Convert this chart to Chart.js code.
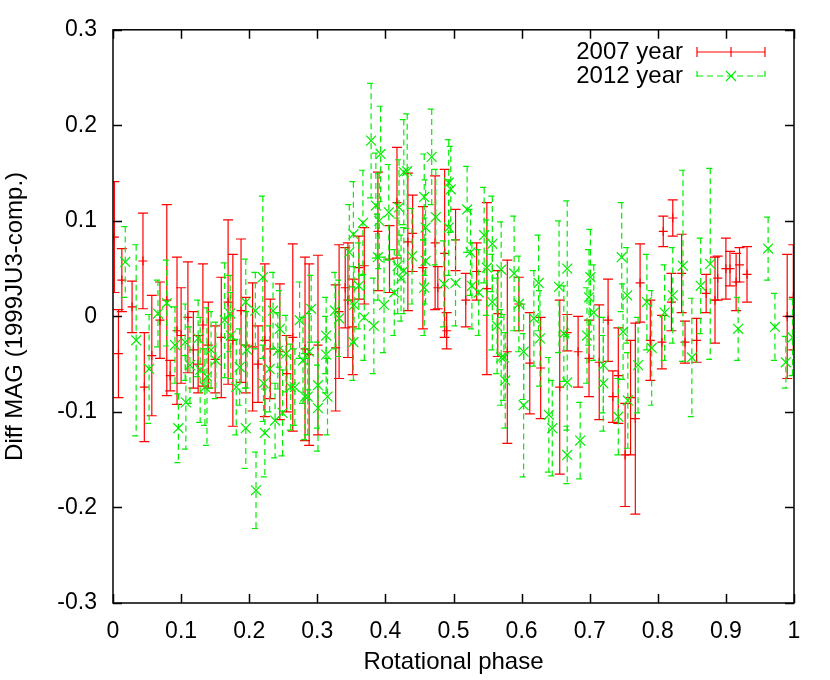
<!DOCTYPE html>
<html>
<head>
<meta charset="utf-8">
<script src="https://cdn.jsdelivr.net/npm/chart.js@4.4.0/dist/chart.umd.min.js"></script>
<style>
  html, body { margin: 0; padding: 0; background: #fff; }
  #wrap { width: 830px; height: 680px; }
</style>
</head>
<body>
<div id="wrap"><canvas id="chart" width="830" height="680"></canvas></div>
<script>
// 位相曲線データ
const xTicks = [0, 0.1, 0.2, 0.3, 0.4, 0.5, 0.6, 0.7, 0.8, 0.9, 1];
const xTickLabels = ['0', '0.1', '0.2', '0.3', '0.4', '0.5', '0.6', '0.7', '0.8', '0.9', '1'];
const yTicks = [-0.3, -0.2, -0.1, 0, 0.1, 0.2, 0.3];
const yTickLabels = ['-0.3', '-0.2', '-0.1', '0', '0.1', '0.2', '0.3'];

const seriesNames = ['2007 year', '2012 year'];

// 2007 year
const phase2007 = [0.002, 0.008, 0.013, 0.028, 0.044, 0.046, 0.057, 0.069, 0.079, 0.084,
  0.094, 0.100, 0.110, 0.118, 0.125, 0.132, 0.140, 0.150, 0.159, 0.169,
  0.176, 0.188, 0.195, 0.205, 0.213, 0.223, 0.231, 0.245, 0.255, 0.264,
  0.282, 0.288, 0.301, 0.327, 0.332, 0.341, 0.345, 0.352, 0.361, 0.369,
  0.389, 0.406, 0.417, 0.433, 0.440, 0.455, 0.473, 0.477, 0.487, 0.490,
  0.503, 0.518, 0.534, 0.549, 0.565, 0.579, 0.596, 0.612, 0.628, 0.656,
  0.667, 0.683, 0.699, 0.714, 0.727, 0.734, 0.742, 0.752, 0.760, 0.767,
  0.774, 0.789, 0.806, 0.808, 0.820, 0.822, 0.835, 0.840, 0.857, 0.871,
  0.884, 0.888, 0.900, 0.906, 0.915, 0.920, 0.931, 0.990, 0.999];
const mag2007 = [0.083, -0.039, 0.038, 0.010, 0.058, -0.074, -0.041, -0.004, 0.017, -0.062,
  -0.015, -0.020, -0.001, -0.035, -0.050, -0.009, -0.030, -0.045, -0.022, 0.015,
  -0.025, 0.006, -0.030, -0.032, -0.050, -0.025, -0.034, -0.037, -0.060, -0.022,
  -0.034, -0.040, -0.030, -0.033, 0.005, 0.030, 0.017, -0.011, 0.051, 0.053,
  0.089, 0.060, 0.119, 0.078, 0.087, 0.051, 0.077, 0.030, 0.066, -0.015,
  0.080, 0.017, 0.047, 0.029, 0.003, -0.037, 0.013, -0.049, -0.054, -0.074,
  -0.017, -0.037, -0.044, -0.048, -0.004, -0.084, -0.062, -0.145, -0.085, -0.107,
  0.035, -0.025, -0.027, 0.089, 0.015, 0.103, 0.045, -0.027, -0.025, 0.024,
  0.017, 0.040, 0.050, 0.050, 0.036, 0.054, 0.044, 0.000, 0.020];
const err2007 = [0.058, 0.046, 0.033, 0.027, 0.050, 0.057, 0.063, 0.040, 0.100, 0.016,
  0.077, 0.050, 0.058, 0.040, 0.030, 0.064, 0.045, 0.035, 0.063, 0.086,
  0.090, 0.075, 0.050, 0.067, 0.040, 0.080, 0.052, 0.071, 0.040, 0.098,
  0.096, 0.095, 0.094, 0.066, 0.070, 0.042, 0.060, 0.050, 0.033, 0.040,
  0.062, 0.035, 0.058, 0.072, 0.040, 0.064, 0.070, 0.022, 0.088, 0.019,
  0.032, 0.028, 0.030, 0.090, 0.045, 0.096, 0.028, 0.053, 0.053, 0.091,
  0.019, 0.037, 0.040, 0.060, 0.043, 0.027, 0.050, 0.054, 0.060, 0.100,
  0.041, 0.042, 0.028, 0.016, 0.030, 0.019, 0.041, 0.022, 0.023, 0.020,
  0.045, 0.023, 0.032, 0.018, 0.030, 0.018, 0.029, 0.065, 0.055];

// 2012 year
const phase2012 = [0.018, 0.034, 0.053, 0.066, 0.079, 0.091, 0.096, 0.106, 0.107, 0.113,
  0.125, 0.128, 0.135, 0.138, 0.144, 0.151, 0.164, 0.172, 0.173, 0.181,
  0.186, 0.195, 0.195, 0.197, 0.209, 0.210, 0.220, 0.221, 0.223, 0.230,
  0.235, 0.238, 0.242, 0.245, 0.249, 0.254, 0.261, 0.267, 0.274, 0.279,
  0.282, 0.286, 0.288, 0.291, 0.301, 0.301, 0.313, 0.313, 0.315, 0.326,
  0.332, 0.347, 0.353, 0.353, 0.354, 0.361, 0.367, 0.369, 0.379, 0.383,
  0.386, 0.389, 0.391, 0.393, 0.398, 0.405, 0.413, 0.418, 0.420, 0.423,
  0.427, 0.427, 0.432, 0.439, 0.457, 0.457, 0.459, 0.459, 0.468, 0.474,
  0.486, 0.493, 0.493, 0.496, 0.503, 0.520, 0.525, 0.527, 0.537, 0.545,
  0.549, 0.557, 0.557, 0.564, 0.570, 0.570, 0.574, 0.576, 0.589, 0.596,
  0.603, 0.603, 0.618, 0.625, 0.627, 0.640, 0.645, 0.655, 0.662, 0.667,
  0.667, 0.667, 0.686, 0.696, 0.699, 0.701, 0.706, 0.720, 0.720, 0.742,
  0.747, 0.749, 0.755, 0.756, 0.771, 0.784, 0.791, 0.810, 0.822, 0.837,
  0.850, 0.863, 0.877, 0.918, 0.962, 0.972, 0.988, 0.998];
const mag2012 = [0.057, -0.025, -0.055, 0.003, 0.014, -0.030, -0.117, -0.027, -0.090, -0.051,
  -0.023, -0.056, -0.074, -0.063, -0.035, -0.046, -0.004, 0.003, -0.020, -0.074,
  -0.053, 0.015, -0.117, -0.035, 0.006, -0.182, 0.041, -0.070, -0.122, -0.055,
  0.006, -0.109, -0.036, -0.013, -0.101, -0.039, -0.074, -0.074, -0.004, -0.046,
  -0.084, -0.084, -0.037, 0.008, -0.072, -0.096, -0.020, -0.040, -0.084, 0.006,
  -0.002, 0.067, 0.086, -0.027, 0.012, 0.032, 0.098, -0.001, 0.184, -0.010,
  0.116, 0.062, 0.100, 0.170, 0.012, 0.109, 0.025, 0.053, 0.114, 0.040,
  0.151, 0.048, 0.152, 0.063, 0.125, 0.030, 0.093, 0.058, 0.167, 0.104,
  0.034, 0.140, 0.093, 0.133, 0.035, 0.112, 0.067, 0.032, 0.025, 0.085,
  0.051, 0.076, 0.015, -0.010, 0.049, -0.043, -0.043, -0.067, 0.045, 0.013,
  -0.037, -0.093, -0.002, 0.035, -0.023, -0.103, -0.117, 0.031, -0.018, 0.050,
  -0.069, -0.145, -0.130, -0.020, 0.020, 0.041, 0.004, -0.051, -0.070, -0.105,
  0.062, -0.016, 0.022, -0.088, -0.051, 0.015, -0.033, 0.004, 0.022, 0.053,
  -0.043, 0.032, 0.055, -0.013, 0.071, -0.011, -0.048, -0.022];
const err2012 = [0.037, 0.100, 0.057, 0.035, 0.045, 0.040, 0.036, 0.040, 0.049, 0.040,
  0.040, 0.055, 0.040, 0.072, 0.040, 0.040, 0.060, 0.040, 0.045, 0.050,
  0.040, 0.045, 0.042, 0.040, 0.040, 0.040, 0.085, 0.040, 0.046, 0.045,
  0.040, 0.039, 0.040, 0.040, 0.045, 0.040, 0.045, 0.040, 0.040, 0.045,
  0.045, 0.040, 0.040, 0.035, 0.045, 0.045, 0.040, 0.040, 0.040, 0.040,
  0.040, 0.050, 0.055, 0.040, 0.040, 0.045, 0.055, 0.045, 0.060, 0.050,
  0.055, 0.045, 0.050, 0.050, 0.050, 0.050, 0.045, 0.050, 0.050, 0.045,
  0.055, 0.045, 0.060, 0.050, 0.045, 0.050, 0.050, 0.045, 0.050, 0.050,
  0.045, 0.045, 0.050, 0.045, 0.045, 0.045, 0.045, 0.045, 0.045, 0.050,
  0.050, 0.050, 0.050, 0.050, 0.050, 0.050, 0.045, 0.050, 0.060, 0.050,
  0.050, 0.075, 0.050, 0.050, 0.050, 0.060, 0.050, 0.069, 0.050, 0.071,
  0.050, 0.030, 0.040, 0.050, 0.050, 0.050, 0.050, 0.050, 0.050, 0.040,
  0.057, 0.050, 0.050, 0.050, 0.050, 0.050, 0.060, 0.050, 0.050, 0.100,
  0.062, 0.050, 0.100, 0.033, 0.033, 0.035, 0.027, 0.040];

const RED = 'rgb(255,0,0)';
const GREEN = 'rgb(0,238,0)';
const FONT = '"Liberation Sans", Arial, sans-serif';

function toPoints(xs, ys, es) {
  return xs.map((x, i) => ({ x: x, y: ys[i], e: es[i] }));
}

// エラーバー（各データセットの点の直前に描く）
const errorBarPlugin = {
  id: 'errorBars',
  beforeDatasetDraw(chart, args) {
    const ds = chart.data.datasets[args.index];
    const xs = chart.scales.x, ys = chart.scales.y;
    const ctx = chart.ctx;
    const area = chart.chartArea;
    ctx.save();
    ctx.beginPath();
    ctx.rect(area.left, area.top, area.right - area.left, area.bottom - area.top);
    ctx.clip();
    ctx.strokeStyle = ds.borderColor;
    ctx.lineWidth = 1.2;
    ctx.setLineDash(ds.barDash || []);
    const cap = ds.capHalf;
    ds.data.forEach(p => {
      const px = xs.getPixelForValue(p.x);
      const top = ys.getPixelForValue(p.y + p.e);
      const bot = ys.getPixelForValue(p.y - p.e);
      ctx.beginPath();
      ctx.moveTo(px, top); ctx.lineTo(px, bot);
      ctx.moveTo(px - cap, top); ctx.lineTo(px + cap, top);
      ctx.moveTo(px - cap, bot); ctx.lineTo(px + cap, bot);
      ctx.stroke();
    });
    ctx.restore();
  }
};

// 枠・内向き目盛り・凡例
const framePlugin = {
  id: 'frame',
  afterDraw(chart) {
    const ctx = chart.ctx;
    const a = chart.chartArea;
    const xs = chart.scales.x, ys = chart.scales.y;
    const tl = 9;
    ctx.save();
    ctx.strokeStyle = '#000';
    ctx.lineWidth = 1.5;
    ctx.setLineDash([]);
    ctx.strokeRect(a.left, a.top, a.right - a.left, a.bottom - a.top);
    ctx.beginPath();
    xTicks.forEach(v => {
      const px = Math.round(xs.getPixelForValue(v)) + 0.5;
      ctx.moveTo(px, a.bottom); ctx.lineTo(px, a.bottom - tl);
      ctx.moveTo(px, a.top); ctx.lineTo(px, a.top + tl);
    });
    yTicks.forEach(v => {
      const py = Math.round(ys.getPixelForValue(v)) + 0.5;
      ctx.moveTo(a.left, py); ctx.lineTo(a.left + tl, py);
      ctx.moveTo(a.right, py); ctx.lineTo(a.right - tl, py);
    });
    ctx.stroke();

    // 凡例
    const rows = [
      { label: seriesNames[0], color: RED, dash: [], marker: 'cross', y: 52 },
      { label: seriesNames[1], color: GREEN, dash: [6, 4], marker: 'x', y: 76 }
    ];
    const x0 = 697, x1 = 765, xm = (x0 + x1) / 2;
    ctx.font = '24px ' + FONT;
    ctx.textAlign = 'right';
    ctx.textBaseline = 'middle';
    rows.forEach(r => {
      ctx.fillStyle = '#000';
      ctx.fillText(r.label, 683, r.y);
      ctx.strokeStyle = r.color;
      ctx.lineWidth = 1.2;
      ctx.setLineDash(r.dash);
      ctx.beginPath();
      ctx.moveTo(x0, r.y); ctx.lineTo(x1, r.y);
      ctx.moveTo(x0, r.y - 5); ctx.lineTo(x0, r.y + 5);
      ctx.moveTo(x1, r.y - 5); ctx.lineTo(x1, r.y + 5);
      ctx.stroke();
      ctx.setLineDash([]);
      ctx.beginPath();
      if (r.marker === 'cross') {
        ctx.moveTo(xm, r.y - 5); ctx.lineTo(xm, r.y + 5);
      } else {
        ctx.moveTo(xm - 5, r.y - 5); ctx.lineTo(xm + 5, r.y + 5);
        ctx.moveTo(xm - 5, r.y + 5); ctx.lineTo(xm + 5, r.y - 5);
      }
      ctx.stroke();
    });
    ctx.restore();
  }
};

Chart.defaults.font.family = FONT;
Chart.defaults.color = '#000';

new Chart(document.getElementById('chart'), {
  type: 'scatter',
  data: {
    datasets: [
      {
        label: seriesNames[0],
        data: toPoints(phase2007, mag2007, err2007),
        borderColor: RED,
        backgroundColor: RED,
        pointStyle: 'cross',
        pointRadius: 4.5,
        borderWidth: 1.2,
        capHalf: 5,
        barDash: [],
        order: 2
      },
      {
        label: seriesNames[1],
        data: toPoints(phase2012, mag2012, err2012),
        borderColor: GREEN,
        backgroundColor: GREEN,
        pointStyle: 'crossRot',
        pointRadius: 7,
        borderWidth: 1.2,
        capHalf: 4,
        barDash: [6, 4],
        order: 1
      }
    ]
  },
  options: {
    responsive: false,
    animation: false,
    devicePixelRatio: 1,
    layout: { padding: { top: 29, right: 36, left: 0, bottom: 0 } },
    plugins: { legend: { display: false }, tooltip: { enabled: false } },
    scales: {
      x: {
        type: 'linear', min: 0, max: 1,
        afterBuildTicks: s => { s.ticks = xTicks.map(v => ({ value: v })); },
        afterFit: s => { s.height = 77; },
        grid: { display: false, drawTicks: false },
        border: { display: false },
        ticks: {
          autoSkip: false, maxRotation: 0, padding: 15,
          font: { size: 23 }, color: '#000',
          callback: (v, i) => xTickLabels[i]
        },
        title: { display: true, text: 'Rotational phase', font: { size: 24 }, color: '#000', padding: { top: 0, bottom: 3 } }
      },
      y: {
        type: 'linear', min: -0.3, max: 0.3,
        afterBuildTicks: s => { s.ticks = yTicks.map(v => ({ value: v })); },
        afterFit: s => { s.width = 113; },
        grid: { display: false, drawTicks: false },
        border: { display: false },
        ticks: {
          autoSkip: false, padding: 16,
          font: { size: 23 }, color: '#000',
          callback: (v, i) => yTickLabels[i]
        },
        title: { display: true, text: 'Diff MAG (1999JU3-comp.)', font: { size: 24 }, color: '#000', padding: { top: 1, bottom: 0 } }
      }
    }
  },
  plugins: [errorBarPlugin, framePlugin]
});
</script>
</body>
</html>
